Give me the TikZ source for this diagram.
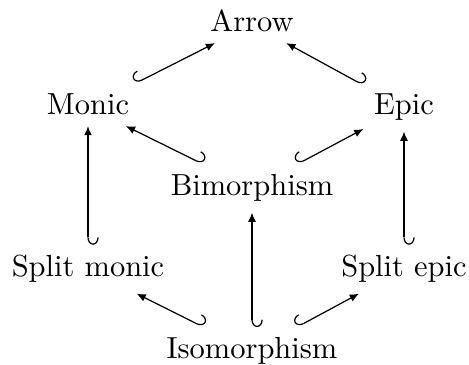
\documentclass[tikz,border=0pt]{standalone}
\usetikzlibrary{arrows.meta,cd}
\begin{document}
\begin{tikzpicture}[x=0.328pt,y=-0.328pt,
  lbl/.style={shape=asymmetrical rectangle, anchor=base, inner sep=0.333em},
  incl/.style={line width=0.4pt, {Hooks[left,length=2.4pt,width=7pt]}-{Latex[length=3pt,width=2.6pt]}},
  inclp/.style={line width=0.4pt, {Hooks[right,length=2.4pt,width=7pt]}-{Latex[length=3pt,width=2.6pt]}}]
\useasboundingbox (0,0) rectangle (469,365);
% objects, one per row, baseline aligned
\node[lbl] (arrow) at (252,32) {Arrow};
\node[lbl] (monic) at (88,115) {Monic};
\node[lbl] (epic) at (404,115) {Epic};
\node[lbl] (bimor) at (252,196) {Bimorphism};
\node[lbl] (smonic) at (88,277) {Split monic};
\node[lbl] (sepic) at (404,277) {Split epic};
\node[lbl] (iso) at (252,359) {Isomorphism};
% inclusions
\draw[inclp] (monic) -- (arrow);
\draw[incl] (epic) -- (arrow);
\draw[incl] (bimor) -- (monic);
\draw[inclp] (bimor) -- (epic);
\draw[incl] (smonic) -- (monic);
\draw[incl] (sepic) -- (epic);
\draw[incl] (iso) -- (bimor);
\draw[incl] (iso) -- (smonic);
\draw[inclp] (iso) -- (sepic);
\end{tikzpicture}
\end{document}
